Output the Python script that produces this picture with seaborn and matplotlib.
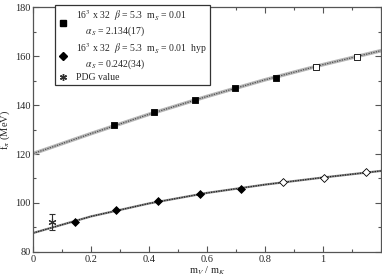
import numpy as np
import pandas as pd
import matplotlib
import matplotlib.pyplot as plt
import seaborn as sns
from matplotlib.lines import Line2D
from matplotlib.ticker import MultipleLocator

matplotlib.use('Agg')

# data
sq_x = [0.280, 0.418, 0.557, 0.697, 0.837]
sq_y = [132.1, 137.1, 142.2, 146.9, 151.2]
sq_open_x = [0.976, 1.116]
sq_open_y = [155.6, 159.7]

dm_x = [0.144, 0.286, 0.430, 0.576, 0.716]
dm_y = [92.2, 97.0, 100.6, 103.6, 105.9]
dm_open_x = [0.861, 1.003, 1.148]
dm_open_y = [108.4, 110.4, 112.5]

# fit curves
fit_x = [0.0, 0.2, 0.4, 0.6, 0.8, 1.0, 1.2]
fit_sq = [120.2, 128.4, 136.3, 143.6, 150.4, 156.6, 162.3]
fit_dm = [87.7, 94.5, 99.8, 104.1, 107.5, 110.4, 113.1]

pdg_x = [0.065]
pdg_y = [92.2]
pdg_err = [3.3]

labels = [r"16$^3$ x 32  $\beta$ = 5.3  m$_S$ = 0.01" + "\n" + r"    $\alpha_S$ = 2.134(17)",
          r"16$^3$ x 32  $\beta$ = 5.3  m$_S$ = 0.01  hyp" + "\n" + r"    $\alpha_S$ = 0.242(34)",
          "PDG value"]

sns.set_style('ticks')
plt.rcParams['font.family'] = ['Liberation Serif', 'DejaVu Serif']
plt.rcParams['mathtext.fontset'] = 'stix'
plt.rcParams['font.size'] = 7.5

fig = plt.figure(figsize=(3.82, 2.77), dpi=100)
ax = fig.add_axes([0.087, 0.091, 0.91, 0.882])

fit_df = pd.DataFrame({'x': fit_x, 'sq': fit_sq, 'dm': fit_dm})
# hatched-looking fit bands
sns.lineplot(data=fit_df, x='x', y='sq', ax=ax, color='#b8b8b8', linewidth=2.6, zorder=1)
sns.lineplot(data=fit_df, x='x', y='sq', ax=ax, color='#505050', linewidth=0.9,
             linestyle=(0, (1, 1)), zorder=2)
sns.lineplot(data=fit_df, x='x', y='dm', ax=ax, color='#8a8a8a', linewidth=1.6, zorder=1)
sns.lineplot(data=fit_df, x='x', y='dm', ax=ax, color='#202020', linewidth=0.9,
             linestyle=(0, (1, 1)), zorder=2)

sns.scatterplot(x=sq_x, y=sq_y, ax=ax, marker='s', s=20, color='black',
                edgecolor='black', linewidth=0.6, zorder=4)
sns.scatterplot(x=sq_open_x, y=sq_open_y, ax=ax, marker='s', s=20, color='white',
                edgecolor='black', linewidth=0.6, zorder=4)
sns.scatterplot(x=dm_x, y=dm_y, ax=ax, marker='D', s=16, color='black',
                edgecolor='black', linewidth=0.6, zorder=4)
sns.scatterplot(x=dm_open_x, y=dm_open_y, ax=ax, marker='D', s=16, color='white',
                edgecolor='black', linewidth=0.6, zorder=4)
ax.errorbar(pdg_x, pdg_y, yerr=pdg_err, fmt='none', ecolor='#303030',
            elinewidth=0.8, capsize=2.5, capthick=0.8, zorder=3)
sns.scatterplot(x=pdg_x, y=pdg_y, ax=ax, marker=(6, 2, 0), s=26, color='#303030',
                linewidth=0.8, zorder=4)

ax.set_xlim(0, 1.2)
ax.set_ylim(80, 180)
ax.xaxis.set_major_locator(MultipleLocator(0.2))
ax.xaxis.set_minor_locator(MultipleLocator(0.1))
ax.yaxis.set_major_locator(MultipleLocator(20))
ax.yaxis.set_minor_locator(MultipleLocator(10))
ax.set_xticks([0, 0.2, 0.4, 0.6, 0.8, 1.0])
ax.set_xticklabels(['0', '0.2', '0.4', '0.6', '0.8', '1'])
ax.tick_params(which='both', direction='in', top=True, right=True, color='#555555', width=0.8)
ax.tick_params(which='major', length=4, pad=2)
ax.tick_params(which='minor', length=2.5)
for sp in ax.spines.values():
    sp.set_color('#555555')
    sp.set_linewidth(0.9)

ax.set_xlabel(r'm$_V$ / m$_K$', labelpad=1)
ax.set_ylabel(r'f$_\pi$ (MeV)', labelpad=2)

handles = [Line2D([], [], marker='s', color='black', linestyle='none', markersize=5),
           Line2D([], [], marker='D', color='black', linestyle='none', markersize=4.5),
           Line2D([], [], marker=(6, 2, 0), color='#303030', linestyle='none', markersize=5)]
leg = ax.legend(handles, labels, loc='upper left', bbox_to_anchor=(0.05, 1.03),
                frameon=True, fancybox=False, edgecolor='#333333', framealpha=1,
                handlelength=1.0, handletextpad=0.8, borderpad=0.3, labelspacing=0.25,
                fontsize=7)
leg.get_frame().set_linewidth(0.9)
leg.set_zorder(10)

fig.savefig('out.png', dpi=100)
